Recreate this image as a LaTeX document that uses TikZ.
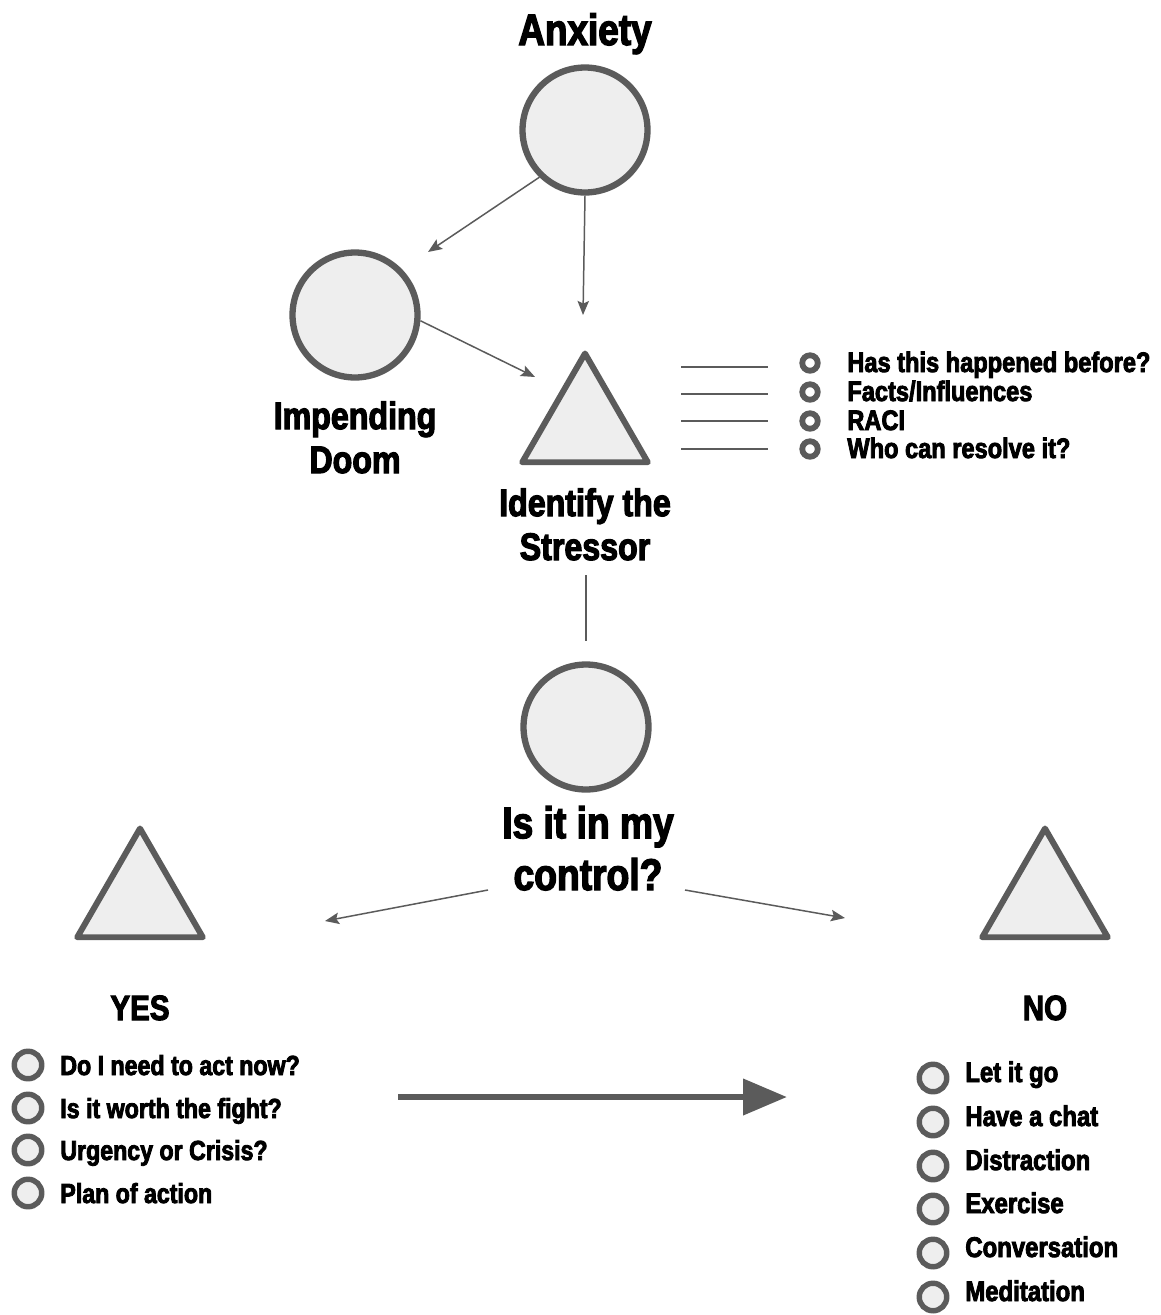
\documentclass[tikz,border=0pt]{standalone}
\usepackage{fontspec}
\newfontfamily\imp{Liberation Sans}[FakeStretch=0.84,BoldFeatures={FakeBold=3}]
\usetikzlibrary{shapes.geometric,arrows.meta}
\definecolor{edge}{HTML}{5B5B5B}
\definecolor{fillg}{HTML}{EEEEEE}
\begin{document}
\begin{tikzpicture}[x=0.02cm,y=-0.02cm,
  bigc/.style={circle,draw=edge,fill=fillg,line width=3.6pt,minimum size=2.5cm,inner sep=0pt},
  tri/.style={regular polygon,regular polygon sides=3,draw=edge,fill=fillg,line width=3.4pt,line join=round,minimum size=2.9cm,inner sep=0pt},
  ring/.style={circle,draw=edge,fill=white,line width=3.3pt,minimum size=0.31cm,inner sep=0pt},
  lring/.style={circle,draw=edge,fill=fillg,line width=3.1pt,minimum size=0.55cm,inner sep=0pt},
  lbl/.style={inner sep=0pt,align=center,text=black},
  ttl/.style={lbl,font=\imp\bfseries\fontsize{25}{30}\selectfont},
  sub/.style={lbl,font=\imp\bfseries\fontsize{21.8}{25}\selectfont},
  yn/.style={lbl,font=\imp\bfseries\fontsize{20}{24}\selectfont},
  item/.style={inner sep=0pt,anchor=base west,text=black,font=\imp\bfseries\fontsize{16}{19}\selectfont},
  arr/.style={draw=edge,line width=0.85pt,-{Stealth[length=8pt,width=6.5pt,inset=1.5pt]}},
  conn/.style={draw=edge,line width=0.75pt},
  bigarr/.style={draw=edge,line width=3.8pt,-{Triangle[length=25pt,width=20pt]}}
]
\fill[white] (0,0) rectangle (1160,1315);
\useasboundingbox (0,0) rectangle (1160,1315);

% main shapes
\node[bigc] (anx) at (585,130) {};
\node[bigc] (imp) at (355,315) {};
\node[tri] (idn) at (585,426) {};
\node[bigc] (ctrl) at (586,727) {};
\node[tri] (yes) at (140,901) {};
\node[tri] (no) at (1045,901) {};

% labels (base anchor = baseline of last line)
\node[ttl,anchor=base] (anxt) at (585,45) {Anxiety};
\node[sub,anchor=base] (impt) at (355,473) {Impending\\Doom};
\node[sub,anchor=base] (idt) at (585,560) {Identify the\\Stressor};
\node[ttl,anchor=base,font=\imp\bfseries\fontsize{25.2}{29.5}\selectfont] (q) at (588,890) {Is it in my\\control?};
\node[yn,anchor=base] (yest) at (140,1020) {YES};
\node[yn,anchor=base] (not) at (1045,1020) {NO};

% connector ends
\coordinate (e1) at (428,252);
\coordinate (e2) at (583,315);
\coordinate (e3) at (535,377);
\coordinate (s1) at (586,575);
\coordinate (c1) at (488,890);
\coordinate (c2) at (325,921);
\coordinate (c3) at (685,890);
\coordinate (c4) at (845,918);
\coordinate (b1) at (398,1097);
\coordinate (b2) at (787,1097);

\draw[arr] (anx.226) -- (e1);
\draw[arr] (anx.south) -- (e2);
\draw[arr] (imp.-5) -- (e3);
\draw[conn,shorten >=0.4cm] (s1) -- (ctrl);
\draw[arr] (c1) -- (c2);
\draw[arr] (c3) -- (c4);
\draw[bigarr] (b1) -- (b2);

% lines beside stressor
\foreach \yy in {367,394,421,449} \draw[conn] (681,\yy) -- (768,\yy);

% stressor checklist
\node[ring] (r1) at (810,363) {};
\node[ring] (r2) at (810,392) {};
\node[ring] (r3) at (810,421) {};
\node[ring] (r4) at (810,449) {};
\node[item] (t1) at (847,372) {Has this happened before?};
\node[item] (t2) at (847,401) {Facts/Influences};
\node[item] (t3) at (847,430) {RACI};
\node[item] (t4) at (847,458) {Who can resolve it?};

% YES list
\node[lring] (y1) at (28,1065) {};
\node[lring] (y2) at (28,1108) {};
\node[lring] (y3) at (28,1150) {};
\node[lring] (y4) at (28,1193) {};
\node[item,font=\imp\bfseries\fontsize{15.7}{19}\selectfont] (yt1) at (60,1075) {Do I need to act now?};
\node[item,font=\imp\bfseries\fontsize{15.7}{19}\selectfont] (yt2) at (60,1118) {Is it worth the fight?};
\node[item,font=\imp\bfseries\fontsize{15.7}{19}\selectfont] (yt3) at (60,1160) {Urgency or Crisis?};
\node[item,font=\imp\bfseries\fontsize{15.7}{19}\selectfont] (yt4) at (60,1203) {Plan of action};

% NO list
\node[lring] (n1) at (933,1078) {};
\node[lring] (n2) at (933,1122) {};
\node[lring] (n3) at (933,1166) {};
\node[lring] (n4) at (933,1209) {};
\node[lring] (n5) at (933,1253) {};
\node[lring] (n6) at (933,1297) {};
\node[item,font=\imp\bfseries\fontsize{16.2}{19}\selectfont] (nt1) at (965,1082) {Let it go};
\node[item,font=\imp\bfseries\fontsize{16.2}{19}\selectfont] (nt2) at (965,1126) {Have a chat};
\node[item,font=\imp\bfseries\fontsize{16.2}{19}\selectfont] (nt3) at (965,1170) {Distraction};
\node[item,font=\imp\bfseries\fontsize{16.2}{19}\selectfont] (nt4) at (965,1213) {Exercise};
\node[item,font=\imp\bfseries\fontsize{16.2}{19}\selectfont] (nt5) at (965,1257) {Conversation};
\node[item,font=\imp\bfseries\fontsize{16.2}{19}\selectfont] (nt6) at (965,1301) {Meditation};
\end{tikzpicture}
\end{document}
